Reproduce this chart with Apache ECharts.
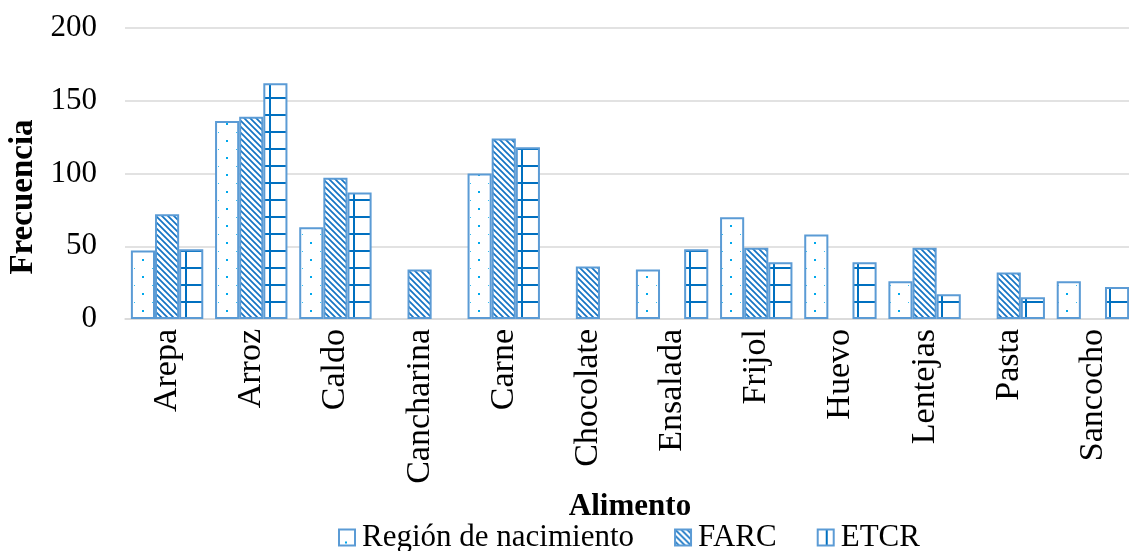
<!DOCTYPE html>
<html>
<head>
<meta charset="utf-8">
<script src="https://cdn.jsdelivr.net/npm/echarts@6/dist/echarts.min.js"></script>
<style>
  html, body { margin: 0; padding: 0; background: #fff; }
  #main { width: 1129px; height: 551px; }
</style>
</head>
<body>
<div id="main"></div>
<script>
var categories = ['Arepa', 'Arroz', 'Caldo', 'Cancharina', 'Carne', 'Chocolate',
    'Ensalada', 'Frijol', 'Huevo', 'Lentejas', 'Pasta', 'Sancocho'];
var region = [47, 136, 63, 0, 100, 0, 34, 70, 58, 26, 0, 26];
var farc = [72, 139, 97, 34, 124, 36, 0, 49, 0, 49, 32, 0];
var etcr = [48, 162, 87, 0, 118, 0, 48, 39, 39, 17, 15, 22];
var seriesNames = ['Región de nacimiento', 'FARC', 'ETCR'];
var yTicks = [0, 50, 100, 150, 200];

// patrones de relleno (tipo Excel)
function makePattern(w, h, draw) {
    var c = document.createElement('canvas');
    c.width = w;
    c.height = h;
    var ctx = c.getContext('2d');
    ctx.fillStyle = '#fff';
    ctx.fillRect(0, 0, w, h);
    draw(ctx);
    return { image: c, repeat: 'repeat' };
}

var dotFill = makePattern(84, 17, function (ctx) {
    ctx.fillStyle = '#00A8EC';
    ctx.fillRect(58, 4, 2, 2);
    ctx.fillStyle = '#33BBF0';
    ctx.fillRect(50, 13, 1, 1);
    ctx.fillRect(68, 13, 1, 1);
});

var hatchFill = makePattern(6, 6, function (ctx) {
    ctx.strokeStyle = '#1474C4';
    ctx.lineWidth = 1.7;
    ctx.beginPath();
    ctx.moveTo(-1, -1); ctx.lineTo(7, 7);
    ctx.moveTo(-7, -1); ctx.lineTo(1, 7);
    ctx.moveTo(5, -1); ctx.lineTo(13, 7);
    ctx.stroke();
});

var gridFill = makePattern(84, 17, function (ctx) {
    ctx.strokeStyle = '#0070C0';
    ctx.lineWidth = 2;
    ctx.beginPath();
    ctx.moveTo(18, 0); ctx.lineTo(18, 17);
    ctx.moveTo(0, 13); ctx.lineTo(84, 13);
    ctx.stroke();
});

// iconos de la leyenda
var dotIcon = makePattern(16, 16, function (ctx) {
    ctx.fillStyle = '#00A8EC';
    ctx.fillRect(6, 12, 2, 2);
});
var gridIcon = makePattern(16, 16, function (ctx) {
    ctx.strokeStyle = '#0070C0';
    ctx.lineWidth = 2;
    ctx.beginPath();
    ctx.moveTo(9, 0); ctx.lineTo(9, 16);
    ctx.stroke();
});

var chart = echarts.init(document.getElementById('main'));
var font = 'Liberation Serif';

function barSeries(name, values, fill) {
    return {
        name: name,
        type: 'bar',
        // las barras en cero no llevan borde
        data: values.map(function (v) {
            return v === 0 ? { value: 0, itemStyle: { borderWidth: 0 } } : v;
        }),
        barGap: '0%',
        barCategoryGap: '14%',
        itemStyle: {
            color: fill,
            borderColor: '#5B9BD5',
            borderWidth: 2
        }
    };
}

var option = {
    animation: false,
    textStyle: { fontFamily: font, color: '#000' },
    grid: { left: 125, right: -6, top: 28, bottom: 232, outerBoundsMode: 'none' },
    legend: {
        top: 517,
        left: 333,
        icon: 'rect',
        itemWidth: 16,
        itemHeight: 16,
        itemGap: 40,
        textStyle: { fontFamily: font, fontSize: 31, color: '#000', padding: [0, 0, 0, 2] },
        data: [
            { name: seriesNames[0], itemStyle: { color: dotIcon } },
            { name: seriesNames[1] },
            { name: seriesNames[2], itemStyle: { color: gridIcon } }
        ]
    },
    xAxis: {
        type: 'category',
        data: categories,
        name: 'Alimento',
        nameLocation: 'middle',
        nameGap: 163,
        nameTextStyle: { fontFamily: font, fontSize: 31, fontWeight: 'bold', color: '#000' },
        axisTick: { show: false },
        axisLine: { lineStyle: { color: '#d9d9d9', width: 1.5 } },
        axisLabel: { rotate: 90, fontSize: 34, color: '#000', margin: 10, fontFamily: font }
    },
    yAxis: {
        type: 'value',
        min: 0,
        max: yTicks[yTicks.length - 1],
        interval: 50,
        name: 'Frecuencia',
        nameLocation: 'middle',
        nameGap: 85,
        nameTextStyle: {
            fontFamily: font, fontSize: 33, fontWeight: 'bold', color: '#000',
            padding: [0, 47, 0, 0]
        },
        axisLine: { show: false },
        axisTick: { show: false },
        axisLabel: { fontSize: 31, color: '#000', margin: 28, fontFamily: font },
        splitLine: { lineStyle: { color: '#d9d9d9', width: 1.5 } }
    },
    series: [
        barSeries(seriesNames[0], region, dotFill),
        barSeries(seriesNames[1], farc, hatchFill),
        barSeries(seriesNames[2], etcr, gridFill)
    ]
};

chart.setOption(option);
</script>
</body>
</html>
